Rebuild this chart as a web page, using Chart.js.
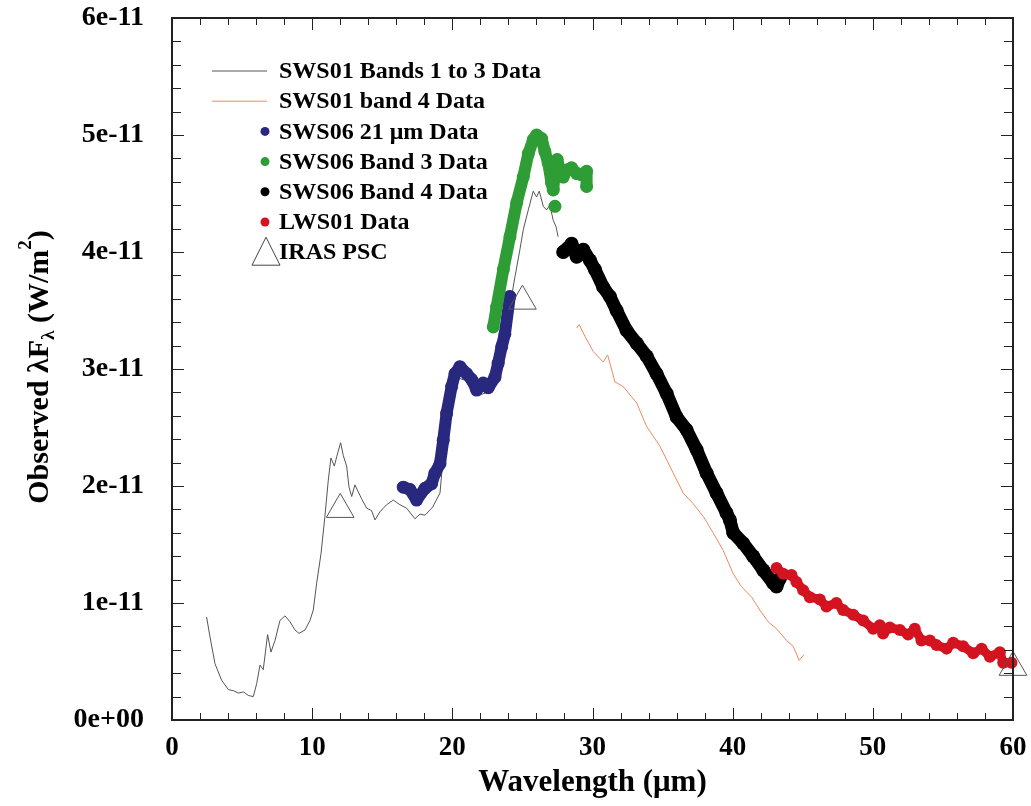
<!DOCTYPE html>
<html>
<head>
<meta charset="utf-8">
<script src="https://cdn.jsdelivr.net/npm/chart.js@4.4.0/dist/chart.umd.min.js"></script>
<style>
html, body { margin: 0; padding: 0; background: #fff; }
#wrap { width: 1031px; height: 806px; }
</style>
</head>
<body>
<div id="wrap"><canvas id="sed"></canvas></div>
<script>
// wavelength in um, flux (lambda F_lambda) in units of 1e-11 W/m^2
var sws01Wave = [2.47, 2.71, 3.07, 3.54, 4.02, 4.40, 4.73, 5.10, 5.44, 5.80, 6.04, 6.28, 6.51, 6.82, 7.06, 7.35, 7.70, 8.06, 8.42, 8.77,
    9.06, 9.49, 9.84, 10.08, 10.32, 10.63, 10.91, 11.15, 11.34, 11.58, 11.75, 12.03, 12.22, 12.46, 12.63, 12.82, 13.05, 13.29, 13.53, 13.89,
    14.24, 14.48, 14.84, 15.31, 15.79, 16.26, 16.74, 17.33, 17.70, 18.05, 18.60, 19.12, 19.50, 20.00, 20.50, 21.00, 21.50, 22.00, 22.50, 23.00,
    23.50, 24.10, 24.47, 24.82, 25.06, 25.42, 25.77, 26.01, 26.20, 26.49, 26.72, 26.96, 27.20, 27.39, 27.55];
var sws01Flux = [0.88, 0.71, 0.48, 0.34, 0.26, 0.25, 0.23, 0.24, 0.21, 0.20, 0.31, 0.47, 0.43, 0.73, 0.58, 0.68, 0.85, 0.89, 0.84, 0.77,
    0.74, 0.77, 0.85, 0.94, 1.17, 1.42, 1.74, 2.05, 2.24, 2.17, 2.25, 2.37, 2.26, 2.17, 1.99, 1.91, 2.01, 1.95, 1.89, 1.81,
    1.79, 1.71, 1.78, 1.84, 1.88, 1.84, 1.81, 1.72, 1.76, 1.75, 1.82, 1.94, 2.45, 2.80, 2.92, 2.90, 2.84, 2.78, 2.80, 2.88,
    3.15, 3.53, 3.79, 4.02, 4.19, 4.36, 4.52, 4.47, 4.52, 4.39, 4.36, 4.40, 4.27, 4.22, 4.13];

var band4Wave = [28.87, 29.05, 29.46, 30.05, 30.76, 31.08, 31.60, 32.19, 33.15, 33.86, 34.81, 35.76, 36.47, 37.18, 37.90, 38.61, 39.32,
    40.04, 40.63, 41.35, 41.94, 42.53, 43.13, 43.84, 44.32, 44.74, 45.10];
var band4Flux = [3.35, 3.38, 3.28, 3.15, 3.06, 3.12, 2.89, 2.85, 2.71, 2.51, 2.34, 2.11, 1.94, 1.85, 1.74, 1.60, 1.45,
    1.25, 1.14, 1.05, 0.94, 0.84, 0.78, 0.68, 0.63, 0.51, 0.56];

var sws06aWave = [16.50, 16.98, 17.45, 18.05, 18.52, 18.76, 19.12, 19.35, 19.59, 19.95, 20.19, 20.54, 21.02, 21.38, 21.73, 22.20, 22.56,
    23.04, 23.27, 23.52, 23.75, 24.10];
var sws06aFlux = [1.99, 1.97, 1.88, 1.98, 2.02, 2.11, 2.19, 2.39, 2.62, 2.85, 2.96, 3.02, 2.96, 2.91, 2.82, 2.88, 2.84,
    2.93, 3.05, 3.19, 3.30, 3.62];

// null breaks the band before the lone point at 27.3 um
var sws06bWave = [22.92, 23.16, 23.64, 24.11, 24.59, 25.06, 25.42, 25.77, 26.01, 26.37, 26.60, 26.84, 27.08, 27.20, 27.32, 27.48, 27.67,
    27.91, 28.15, 28.51, 28.87, 29.22, 29.58, 29.58, null, 27.32];
var sws06bFlux = [3.36, 3.53, 3.85, 4.13, 4.42, 4.64, 4.84, 4.96, 5.00, 4.97, 4.86, 4.76, 4.59, 4.53, 4.70, 4.79, 4.70,
    4.64, 4.70, 4.72, 4.67, 4.66, 4.69, 4.56, null, 4.39];

var sws06cWave = [27.91, 28.51, 28.87, 29.34, 29.81, 30.17, 30.76, 31.24, 31.72, 32.43, 33.15, 33.86, 34.57, 35.29, 36.00, 36.71, 37.43,
    38.14, 38.85, 39.56, 39.80, 40.04, 40.75, 41.46, 42.18, 42.89, 43.13, 43.37];
var sws06cFlux = [4.00, 4.07, 3.96, 4.02, 3.93, 3.85, 3.70, 3.62, 3.50, 3.33, 3.22, 3.11, 2.96, 2.79, 2.59, 2.48, 2.31,
    2.11, 1.94, 1.77, 1.71, 1.60, 1.51, 1.40, 1.28, 1.17, 1.14, 1.21];

var lwsWave = [43.13, 43.60, 44.20, 44.55, 45.03, 45.51, 46.22, 46.69, 47.40, 47.88, 48.60, 49.31, 50.02, 50.50, 50.73, 51.21, 51.93,
    52.52, 52.99, 53.47, 54.07, 54.54, 55.26, 55.73, 56.44, 57.16, 57.76, 58.35, 59.06, 59.30, 59.89];
var lwsFlux = [1.30, 1.25, 1.24, 1.18, 1.11, 1.05, 1.03, 0.97, 1.00, 0.94, 0.90, 0.85, 0.78, 0.81, 0.74, 0.79, 0.77,
    0.73, 0.78, 0.68, 0.68, 0.64, 0.61, 0.66, 0.63, 0.57, 0.61, 0.54, 0.58, 0.49, 0.49];

var irasWave = [12, 25, 60];
var irasFlux = [1.80, 3.58, 0.45];

var yTickLabels = ['0e+00', '1e-11', '2e-11', '3e-11', '4e-11', '5e-11', '6e-11'];
var xTickStep = 10, xMinorStep = 2, yMinorStep = 0.2;

var serif = "'Liberation Serif', 'DejaVu Serif', serif";

function pairs(xs, ys) {
    var out = [];
    for (var i = 0; i < xs.length; i++) out.push({ x: xs[i], y: ys[i] });
    return out;
}

function band(label, xs, ys, colour, width, radius, order) {
    return {
        label: label, data: pairs(xs, ys), showLine: true, order: order, clip: false,
        borderColor: colour, backgroundColor: colour, borderWidth: width,
        borderJoinStyle: 'round', borderCapStyle: 'round',
        pointRadius: radius, pointBorderWidth: 0, spanGaps: false,
        legendKind: 'dot'
    };
}

// legend drawn inside the plot, like the original
var legendBox = {
    id: 'legendBox',
    afterDraw: function (chart) {
        var ctx = chart.ctx;
        var x0 = 212, x1 = 267, tx = 279, y = 71, dy = 30.2;
        ctx.save();
        ctx.font = 'bold 24px ' + serif;
        ctx.textBaseline = 'middle';
        chart.data.datasets.forEach(function (ds) {
            if (ds.legendKind === 'line') {
                ctx.strokeStyle = ds.borderColor;
                ctx.lineWidth = 1;
                ctx.beginPath(); ctx.moveTo(x0, y); ctx.lineTo(x1, y); ctx.stroke();
            } else if (ds.legendKind === 'dot') {
                ctx.fillStyle = ds.backgroundColor;
                ctx.beginPath(); ctx.arc(265, y, 4.5, 0, Math.PI * 2); ctx.fill();
            } else {
                ctx.strokeStyle = '#444';
                ctx.lineWidth = 1;
                ctx.beginPath();
                ctx.moveTo(266, y - 15); ctx.lineTo(280, y + 13); ctx.lineTo(252, y + 13); ctx.closePath();
                ctx.stroke();
            }
            ctx.fillStyle = '#000';
            ctx.fillText(ds.label, tx, y + 1);
            y += dy;
        });
        ctx.restore();
    }
};

// closed frame with inward ticks on all four sides
var frameTicks = {
    id: 'frameTicks',
    afterDatasetsDraw: function (chart) {
        var ctx = chart.ctx, a = chart.chartArea;
        var xs = chart.scales.x, ys = chart.scales.y;
        ctx.save();
        ctx.strokeStyle = '#222';
        ctx.lineWidth = 1;
        ctx.beginPath();
        for (var w = xs.min; w <= xs.max + 1e-9; w += xMinorStep) {
            var px = Math.round(xs.getPixelForValue(w)) + 0.5;
            var len = (Math.abs(w % xTickStep) < 1e-6) ? 12 : 7;
            ctx.moveTo(px, a.bottom); ctx.lineTo(px, a.bottom - len);
            ctx.moveTo(px, a.top); ctx.lineTo(px, a.top + len);
        }
        for (var k = 0; k * yMinorStep <= ys.max + 1e-9; k++) {
            var py = Math.round(ys.getPixelForValue(k * yMinorStep)) + 0.5;
            var l2 = (k % 5 === 0) ? 12 : 9;
            ctx.moveTo(a.left, py); ctx.lineTo(a.left + l2, py);
            ctx.moveTo(a.right, py); ctx.lineTo(a.right - l2, py);
        }
        ctx.stroke();
        ctx.lineWidth = 2;
        ctx.strokeRect(a.left, a.top, a.right - a.left, a.bottom - a.top);
        ctx.restore();
    }
};

// y title with subscript lambda and squared metre
var yTitle = {
    id: 'yTitle',
    afterDraw: function (chart) {
        var ctx = chart.ctx;
        var big = 'bold 30px ' + serif, small = 'bold 19px ' + serif;
        var parts = [['Observed \u03bbF', big, 0], ['\u03bb', small, 9], [' (W/m', big, 0], ['2', small, -14], [')', big, 0]];
        ctx.save();
        var total = 0;
        parts.forEach(function (p) { ctx.font = p[1]; total += ctx.measureText(p[0]).width; });
        ctx.translate(40, 367);
        ctx.rotate(-Math.PI / 2);
        ctx.fillStyle = '#000';
        ctx.textBaseline = 'middle';
        var x = -total / 2;
        parts.forEach(function (p) {
            ctx.font = p[1];
            ctx.fillText(p[0], x, p[2]);
            x += ctx.measureText(p[0]).width;
        });
        ctx.restore();
    }
};

var ctx = document.getElementById('sed');

var sedChart = new Chart(ctx, {
    type: 'scatter',
    data: {
        datasets: [
            {
                label: 'SWS01 Bands 1 to 3 Data', data: pairs(sws01Wave, sws01Flux), showLine: true, order: 10,
                borderColor: '#555555', borderWidth: 1, pointRadius: 0, legendKind: 'line'
            },
            {
                label: 'SWS01 band 4 Data', data: pairs(band4Wave, band4Flux), showLine: true, order: 9,
                borderColor: '#e98a62', borderWidth: 1, pointRadius: 0, legendKind: 'line'
            },
            band('SWS06 21 \u03bcm Data', sws06aWave, sws06aFlux, '#28287e', 12, 6.5, 5),
            band('SWS06 Band 3 Data', sws06bWave, sws06bFlux, '#2f9d35', 12, 6.5, 4),
            band('SWS06 Band 4 Data', sws06cWave, sws06cFlux, '#000000', 13, 7, 3),
            band('LWS01 Data', lwsWave, lwsFlux, '#d3131f', 9, 6, 2),
            {
                label: 'IRAS PSC', data: pairs(irasWave, irasFlux), showLine: false, order: 1, clip: false,
                pointStyle: 'triangle', pointRadius: 16, borderColor: '#555555', borderWidth: 1,
                backgroundColor: 'rgba(0,0,0,0)', legendKind: 'triangle'
            }
        ]
    },
    options: {
        responsive: true,
        maintainAspectRatio: false,
        animation: false,
        layout: { padding: { left: 0, right: 18, top: 18, bottom: 0 } },
        plugins: { legend: { display: false }, tooltip: { enabled: false } },
        scales: {
            x: {
                type: 'linear', min: 0, max: 60,
                grid: { display: false, drawTicks: false },
                border: { display: false },
                ticks: { stepSize: xTickStep, padding: 12, color: '#000', font: { family: serif, size: 27, weight: 'bold' } },
                title: { display: true, text: 'Wavelength (\u03bcm)', color: '#000', padding: { top: 0, bottom: 4 },
                    font: { family: serif, size: 31, weight: 'bold' } },
                afterFit: function (scale) {
                    scale.height = 86;
                    scale.paddingLeft = 0; scale.paddingRight = 0;
                }
            },
            y: {
                type: 'linear', min: 0, max: 6,
                grid: { display: false, drawTicks: false },
                border: { display: false },
                ticks: {
                    stepSize: 1, padding: 28, color: '#000', font: { family: serif, size: 28, weight: 'bold' },
                    callback: function (value) { return yTickLabels[Math.round(value)]; }
                },
                afterFit: function (scale) {
                    scale.width = 172;
                    scale.paddingTop = 0; scale.paddingBottom = 0;
                }
            }
        }
    },
    plugins: [frameTicks, legendBox, yTitle]
});
</script>
</body>
</html>
